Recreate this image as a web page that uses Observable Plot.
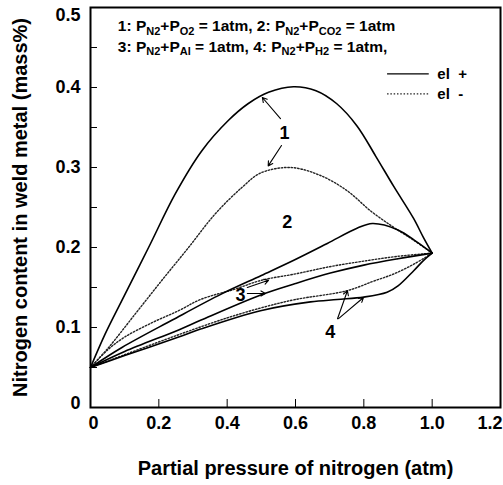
<!DOCTYPE html>
<html><head><meta charset="utf-8">
<script src="https://cdn.jsdelivr.net/npm/d3@7"></script>
<script src="https://cdn.jsdelivr.net/npm/@observablehq/plot@0.6"></script>
<style>body{margin:0;background:#fff}</style>
</head><body><div id="chart"></div>
<script>
// ---- data (x = partial pressure of N2, y = N content mass%) ----
const curve1Plus  = [[0,0.05],[0.043,0.092],[0.092,0.134],[0.17,0.2],[0.248,0.267],[0.326,0.321],[0.404,0.359],[0.462,0.38],[0.521,0.394],[0.594,0.401],[0.66,0.396],[0.72,0.38],[0.78,0.352],[0.835,0.314],[0.888,0.276],[0.946,0.236],[0.975,0.212],[1.0,0.193]];
const curve1Minus = [[0,0.05],[0.053,0.075],[0.131,0.117],[0.209,0.159],[0.287,0.2],[0.365,0.242],[0.443,0.275],[0.4975,0.293],[0.585,0.3],[0.673,0.29],[0.751,0.271],[0.819,0.246],[0.888,0.225],[0.946,0.209],[1.0,0.193]];
const curve2Plus  = [[0,0.05],[0.092,0.075],[0.238,0.109],[0.384,0.142],[0.5,0.165],[0.595,0.184],[0.693,0.205],[0.78,0.224],[0.825,0.23],[0.9,0.222],[0.955,0.207],[1.0,0.193]];
const curve3Plus  = [[0,0.05],[0.1,0.07],[0.258,0.097],[0.322,0.109],[0.5,0.141],[0.6,0.155],[0.702,0.168],[0.8,0.178],[0.9,0.186],[1.0,0.193]];
const curve3Minus = [[0,0.05],[0.05,0.072],[0.1,0.088],[0.18,0.106],[0.258,0.121],[0.322,0.135],[0.423,0.148],[0.5,0.159],[0.6,0.167],[0.7,0.176],[0.8,0.183],[0.9,0.189],[1.0,0.193]];
const curve4Plus  = [[0,0.05],[0.1,0.065],[0.258,0.088],[0.322,0.098],[0.4975,0.121],[0.644,0.132],[0.722,0.135],[0.8,0.138],[0.868,0.144],[0.9,0.152],[0.946,0.171],[0.975,0.184],[1.0,0.193]];
const curve4Minus = [[0,0.05],[0.1,0.066],[0.258,0.091],[0.4,0.112],[0.512,0.126],[0.6,0.135],[0.751,0.146],[0.829,0.158],[0.888,0.167],[0.95,0.18],[1.0,0.193]];

const xTicks = [0, 0.2, 0.4, 0.6, 0.8, 1.0, 1.2];
const xLabelTicksMid = [0.2, 0.4, 0.6, 0.8, 1.0];
const yTicks = [0, 0.1, 0.2, 0.3, 0.4, 0.5];
const yMinorTicks = [0, 0.05, 0.1, 0.15, 0.2, 0.25, 0.3, 0.35, 0.4, 0.45, 0.5];

const curveLabels = ["1", "2", "3", "4"];
const curveLabelX = [0.568, 0.576, 0.439, 0.702];
const curveLabelY = [0.3425, 0.231, 0.14, 0.094];

const arrowX1 = [0.556, 0.559, 0.459, 0.459, 0.723, 0.726];
const arrowY1 = [0.361, 0.3275, 0.15, 0.1425, 0.111, 0.111];
const arrowX2 = [0.503, 0.52, 0.521, 0.512, 0.752, 0.799];
const arrowY2 = [0.3875, 0.302, 0.159, 0.1425, 0.146, 0.1375];

const headerLines = ["1: P_{N2}+P_{O2} = 1atm, 2: P_{N2}+P_{CO2} = 1atm", "3: P_{N2}+P_{Al} = 1atm, 4: P_{N2}+P_{H2} = 1atm,"];
const headerX = [0.08, 0.08];
const headerY = [0.4765, 0.451];

const legendNames = ["el\u00a0\u00a0+", "el\u00a0\u00a0-"];
const legendX1 = [0.868, 0.868];
const legendX2 = [0.99, 0.99];
const legendY = [0.417, 0.392];
const legendTextX = [1.015, 1.015];

const xTitle = "Partial pressure of nitrogen (atm)";
const yTitle = "Nitrogen content in weld metal (mass%)";

// ---- build tables ----
const toRows = (pts, id) => pts.map(([x, y]) => ({id, x, y}));
const solidRows = [...toRows(curve1Plus, "1+"), ...toRows(curve2Plus, "2+"), ...toRows(curve3Plus, "3+"), ...toRows(curve4Plus, "4+")];
const dottedRows = [...toRows(curve1Minus, "1-"), ...toRows(curve3Minus, "3-"), ...toRows(curve4Minus, "4-")];
const arrows = arrowX1.map((_, i) => ({x1: arrowX1[i], y1: arrowY1[i], x2: arrowX2[i], y2: arrowY2[i]}));
const labels = curveLabels.map((t, i) => ({t, x: curveLabelX[i], y: curveLabelY[i]}));
const headers = headerLines.map((t, i) => ({t, x: headerX[i], y: headerY[i]}));
const legend = legendNames.map((t, i) => ({t, x1: legendX1[i], x2: legendX2[i], y: legendY[i], tx: legendTextX[i]}));

const fmt = d => d === 0 ? "0" : d.toFixed(1);
const FONT = "'Liberation Sans', Arial, Helvetica, sans-serif";
const TICKFONT = 18;

const chart = Plot.plot({
  width: 503,
  height: 485,
  marginLeft: 90,
  marginRight: 3,
  marginTop: 7,
  marginBottom: 78,
  style: {fontFamily: FONT, fontWeight: "bold", fontSize: "16px", background: "#fff", color: "#000"},
  x: {domain: [0, 1.2]},
  y: {domain: [0, 0.5]},
  marks: [
    Plot.axisY({ticks: yMinorTicks, tickSize: 7, dx: 7, tickFormat: () => "", label: null}),
    Plot.axisY({ticks: yTicks.slice(1, 5), tickSize: 0, tickPadding: 10, tickFormat: fmt, label: null, fontSize: TICKFONT, fontWeight: "bold"}),
    Plot.axisY({ticks: yTicks.slice(0, 1), tickSize: 0, tickPadding: 10, dy: -4, tickFormat: fmt, label: null, fontSize: TICKFONT, fontWeight: "bold"}),
    Plot.axisY({ticks: yTicks.slice(5), tickSize: 0, tickPadding: 10, dy: 8, tickFormat: fmt, label: null, fontSize: TICKFONT, fontWeight: "bold"}),
    Plot.axisX({ticks: xTicks, tickSize: 8, dy: -8, tickFormat: () => "", label: null}),
    Plot.axisX({ticks: xLabelTicksMid, tickSize: 0, tickPadding: 9, tickFormat: fmt, label: null, fontSize: TICKFONT, fontWeight: "bold"}),
    Plot.axisX({ticks: xTicks.slice(0, 1), tickSize: 0, tickPadding: 9, dx: 3, tickFormat: fmt, label: null, fontSize: TICKFONT, fontWeight: "bold"}),
    Plot.axisX({ticks: xTicks.slice(6), tickSize: 0, tickPadding: 9, textAnchor: "end", dx: 2, tickFormat: fmt, label: null, fontSize: TICKFONT, fontWeight: "bold"}),
    Plot.frame({stroke: "#000", strokeWidth: 2}),
    Plot.line(dottedRows, {x: "x", y: "y", z: "id", curve: "catmull-rom", stroke: "#222", strokeWidth: 1.4, strokeDasharray: "1.5,1.8"}),
    Plot.line(solidRows, {x: "x", y: "y", z: "id", curve: "catmull-rom", stroke: "#000", strokeWidth: 1.6}),
    Plot.arrow(arrows, {x1: "x1", y1: "y1", x2: "x2", y2: "y2", bend: 0, headLength: 7, stroke: "#000", strokeWidth: 1.1}),
    Plot.text(labels, {x: "x", y: "y", text: "t", fontSize: 18, fontWeight: "bold", fill: "#000"}),
    Plot.text(headers, {x: "x", y: "y", text: "t", textAnchor: "start", fontSize: 15.5, fontWeight: "bold", fill: "#000"}),
    Plot.link(legend.slice(0, 1), {x1: "x1", x2: "x2", y1: "y", y2: "y", stroke: "#000", strokeWidth: 1.3}),
    Plot.link(legend.slice(1), {x1: "x1", x2: "x2", y1: "y", y2: "y", stroke: "#222", strokeWidth: 1.3, strokeDasharray: "1.5,1.8"}),
    Plot.text(legend, {x: "tx", y: "y", text: "t", textAnchor: "start", fontSize: 15, fontWeight: "bold", fill: "#000"}),
    Plot.text([xTitle], {frameAnchor: "bottom", dy: 61, textAnchor: "middle", lineAnchor: "middle", fontSize: 20, fontWeight: "bold", fill: "#000"}),
    Plot.text([yTitle], {frameAnchor: "left", dx: -70, textAnchor: "middle", lineAnchor: "middle", rotate: -90, fontSize: 20, fontWeight: "bold", fill: "#000"})
  ]
});
document.getElementById("chart").appendChild(chart);

// subscripts in header lines
chart.querySelectorAll("text").forEach(el => {
  const s = el.textContent;
  if (!s.includes("_{")) return;
  el.textContent = "";
  const parts = s.split(/_\{([^}]*)\}/);
  let shifted = false;
  parts.forEach((p, i) => {
    if (p === "") { return; }
    const ts = document.createElementNS("http://www.w3.org/2000/svg", "tspan");
    ts.textContent = p;
    if (i % 2 === 1) {
      ts.setAttribute("font-size", "11");
      if (!shifted) { ts.setAttribute("dy", "3.5"); shifted = true; }
    } else if (shifted) {
      ts.setAttribute("dy", "-3.5"); shifted = false;
    }
    el.appendChild(ts);
  });
});
</script>
</body></html>
